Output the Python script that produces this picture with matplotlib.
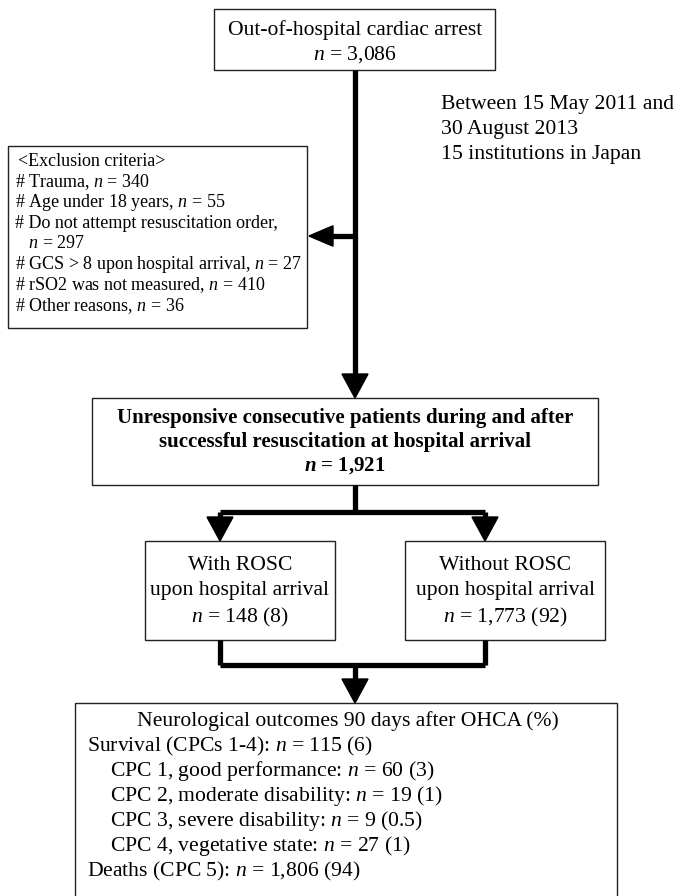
import matplotlib
matplotlib.use("Agg")
import matplotlib.pyplot as plt
from matplotlib.patches import Rectangle, Polygon

plt.rcParams["font.family"] = ["Liberation Serif", "DejaVu Serif"]
plt.rcParams["mathtext.fontset"] = "custom"
plt.rcParams["mathtext.rm"] = "Liberation Serif"
plt.rcParams["mathtext.it"] = "Liberation Serif:italic"
plt.rcParams["mathtext.bf"] = "Liberation Serif:bold"
plt.rcParams["mathtext.bfit"] = "Liberation Serif:italic:bold"

# Tiedot
ohca_n = "3,086"
period = ["Between 15 May 2011 and", "30 August 2013", "15 institutions in Japan"]
excl_reasons = ["Trauma", "Age under 18 years", "Do not attempt resuscitation order",
                "GCS > 8 upon hospital arrival", "rSO2 was not measured", "Other reasons"]
excl_n = [340, 55, 297, 27, 410, 36]
main_n = "1,921"
groups = ["With ROSC", "Without ROSC"]
group_n = ["148", "1,773"]
group_pct = ["8", "92"]
outcome_labels = ["CPC 1, good performance", "CPC 2, moderate disability",
                  "CPC 3, severe disability", "CPC 4, vegetative state"]
outcome_n = [60, 19, 9, 27]
outcome_pct = ["3", "1", "0.5", "1"]
survival_n, survival_pct = 115, "6"
death_n, death_pct = "1,806", "94"

fig = plt.figure(figsize=(6.92, 8.96), dpi=100)
ax = fig.add_axes([0, 0, 1, 1])
ax.set_xlim(0, 692)
ax.set_ylim(896, 0)
ax.axis("off")

FS = 15.6
LW = 3.8


def box(x0, y0, x1, y1):
    ax.add_patch(Rectangle((x0, y0), x1 - x0, y1 - y0, fill=False,
                           ec="#222222", lw=1.0))


def line(xs, ys):
    ax.plot(xs, ys, color="black", lw=LW, solid_capstyle="butt",
            solid_joinstyle="miter")


def head(x, y, d, size=13):
    # kärki pisteessä (x, y), suunta d
    if d == "down":
        pts = [(x, y), (x - size, y - 24), (x + size, y - 24)]
    else:  # left
        pts = [(x, y), (x + 24, y - size * 0.85), (x + 24, y + size * 0.85)]
    ax.add_patch(Polygon(pts, closed=True, fc="black", ec="black"))


# Ylälaatikko
box(214, 9, 495, 70)
ax.text(355, 30, "Out-of-hospital cardiac arrest", ha="center", va="center", fontsize=FS)
ax.text(355, 55, r"$n$ = " + ohca_n, ha="center", va="center", fontsize=FS)

for i, s in enumerate(period):
    ax.text(441, 104 + i * 25.5, s, ha="left", va="center", fontsize=FS)

# Pääviiva ja poissulkunuoli
line([355, 355], [70, 375])
head(355, 398, "down")
line([355, 330], [236, 236])
head(309, 236, "left", 12)

# Poissulkukriteerit
box(8, 146, 307, 328)
excl_lines = ["<Exclusion criteria>"]
for r, n in zip(excl_reasons, excl_n):
    if r.startswith("Do not"):
        excl_lines.append("# " + r + ",")
        excl_lines.append(r"   $n$ = " + str(n))
    else:
        excl_lines.append("# " + r + r", $n$ = " + str(n))
for i, s in enumerate(excl_lines):
    x = 18 if i == 0 else 15
    ax.text(x, 161 + i * 20.7, s, ha="left", va="center", fontsize=13)

# Pääjoukko
box(92, 398, 598, 485)
ax.text(345, 418, "Unresponsive consecutive patients during and after",
        ha="center", va="center", fontsize=15, fontweight="bold")
ax.text(345, 442, "successful resuscitation at hospital arrival",
        ha="center", va="center", fontsize=15, fontweight="bold")
ax.text(345, 466, r"$\mathbfit{n}$ = " + main_n, ha="center", va="center",
        fontsize=15, fontweight="bold")

# Haarautuminen
line([355, 355], [485, 512])
line([220, 485], [512, 512])
line([220, 220], [512, 520])
line([485, 485], [512, 520])
head(220, 541, "down")
head(485, 541, "down")

group_boxes = [(145, 335), (405, 605)]
for (x0, x1), g, n, p in zip(group_boxes, groups, group_n, group_pct):
    box(x0, 541, x1, 640)
    xc = (x0 + x1) / 2
    ax.text(xc, 565, g, ha="center", va="center", fontsize=FS)
    ax.text(xc, 591, "upon hospital arrival", ha="center", va="center", fontsize=FS)
    ax.text(xc, 617, r"$n$ = " + n + " (" + p + ")", ha="center", va="center", fontsize=FS)

# Yhdistyminen
line([220, 220], [640, 665])
line([485, 485], [640, 665])
line([220, 485], [665, 665])
line([355, 355], [665, 682])
head(355, 703, "down")

# Lopputulokset
box(75, 703, 617, 905)
ax.text(348, 721, "Neurological outcomes 90 days after OHCA (%)",
        ha="center", va="center", fontsize=FS)
ax.text(87, 746, r"Survival (CPCs 1-4): $n$ = " + str(survival_n) + " (" + survival_pct + ")",
        ha="left", va="center", fontsize=FS)
for i, (lab, n, p) in enumerate(zip(outcome_labels, outcome_n, outcome_pct)):
    ax.text(110, 771 + i * 25, lab + r": $n$ = " + str(n) + " (" + p + ")",
            ha="left", va="center", fontsize=FS)
ax.text(87, 871, r"Deaths (CPC 5): $n$ = " + death_n + " (" + death_pct + ")",
        ha="left", va="center", fontsize=FS)

fig.savefig("out.png", dpi=100)
